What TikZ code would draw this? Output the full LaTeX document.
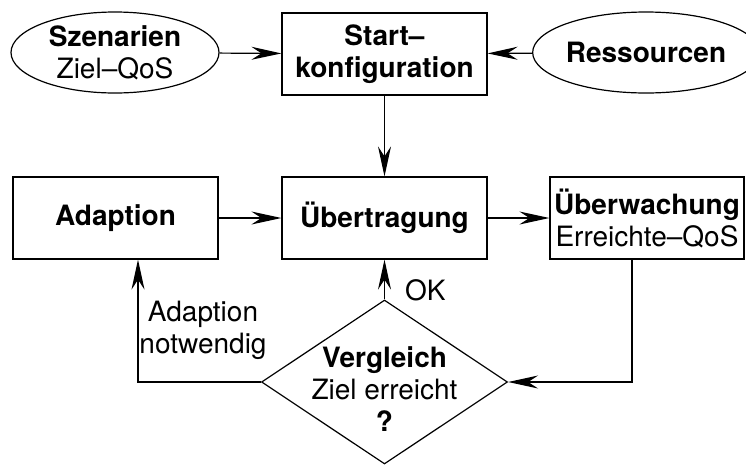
\documentclass[tikz,border=0pt]{standalone}
\usepackage{fontspec}
\setmainfont{TeX Gyre Heros}
\usetikzlibrary{shapes.geometric,arrows.meta}
\begin{document}
\begin{tikzpicture}[x=1pt,y=-1pt,
  every node/.style={font=\fontsize{28}{32}\selectfont, inner sep=0pt},
  box/.style={draw, rectangle, line width=1.2pt, minimum width=205pt, minimum height=82pt, align=center},
  oval/.style={draw, ellipse, line width=1.2pt, minimum width=208pt, minimum height=81pt, align=center},
  decision/.style={draw, diamond, line width=1.2pt, minimum width=246pt, minimum height=164pt},
  flow/.style={line width=1.2pt, -{Stealth[length=30pt,width=13pt,inset=10pt]}},
  note/.style={align=center},
]
\useasboundingbox (0,0) rectangle (746,464);

% top row
\node[oval] (sz) at (115,52.5) {\textbf{Szenarien}\\Ziel–QoS};
\node[box]  (st) at (384.5,54) {\textbf{Start–}\\\textbf{konfiguration}};
\node[oval, minimum width=196pt] (rs) at (646,52.5) {\textbf{Ressourcen}};

% middle row
\node[box] (ad) at (115.5,218) {\textbf{Adaption}};
\node[box] (ub) at (384.5,218) {\textbf{Übertragung}};
\node[box, minimum width=194pt] (uw) at (647,218) {\textbf{Überwachung}\\Erreichte–QoS};

% decision
\node[decision] (vg) at (384.5,382) {};
\node[note] (vgt) at (384.5,389) {\textbf{Vergleich}\\Ziel erreicht\\\textbf{?}};

% labels
\node[anchor=base west] (ok) at (405,300) {OK};
\node[note] (an) at (203,330) {Adaption\\notwendig};

% corners of the feedback lines
\coordinate (lc) at (138,382);
\coordinate (rc) at (632,382);

% connectors
\draw[flow] (sz) -- (st);
\draw[flow] (rs) -- (st);
\draw[flow] (st) -- (ub);
\draw[flow] (ad) -- (ub);
\draw[flow] (ub) -- (uw);
\draw[flow] (vg.north) -- (ub.south);
\draw[flow] (uw.south -| rc) -- (rc) -- (vg.east);
\draw[flow] (vg.west) -- (lc) -- (lc |- ad.south);
\end{tikzpicture}
\end{document}
